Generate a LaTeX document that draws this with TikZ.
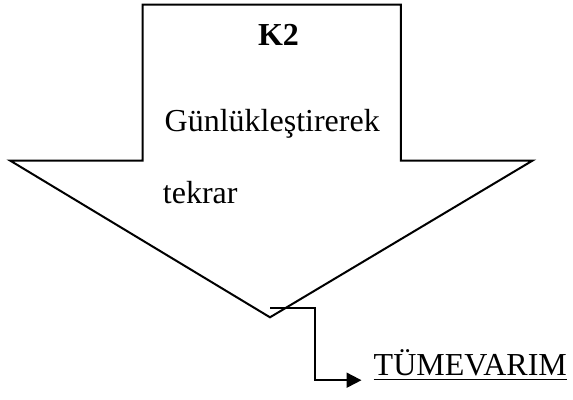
\documentclass[tikz,border=0pt]{standalone}
\usepackage{fontspec}
\setmainfont{Liberation Serif}
\usetikzlibrary{arrows.meta}
\begin{document}
\begin{tikzpicture}[x=1pt,y=-1pt,
  shape line/.style={line width=2pt,line join=miter},
  lbl/.style={inner sep=0pt,anchor=base west,font=\fontsize{32}{38}\selectfont},
  conn/.style={line width=2pt,-{Triangle[length=15pt,width=15pt]}}]
\useasboundingbox (0,0) rectangle (573,399);
\draw[shape line] (142.5,4.5) -- (400.8,4.5) -- (400.8,160.5) -- (532.7,160.5)
  -- (270,317.3) -- (10,160.5) -- (142.5,160.5) -- cycle;
\node[lbl,anchor=base] (k2) at (278.5,45) {\textbf{K2}};
\node[lbl] (g) at (164.5,131.7) {Günlükleştirerek};
\node[lbl] (t) at (162.7,203.3) {tekrar};
\node[lbl] (tv) at (373.5,375.7) {TÜMEVARIM};
\draw[line width=1.3pt] ([yshift=-4pt]tv.base west) -- ([yshift=-4pt]tv.base east);
\coordinate (s) at (270,308.3);
\coordinate (c1) at (315.3,308.3);
\draw[conn] (s) -- (c1) |- ([xshift=-12pt,yshift=-4.5pt]tv.base west);
\end{tikzpicture}
\end{document}
